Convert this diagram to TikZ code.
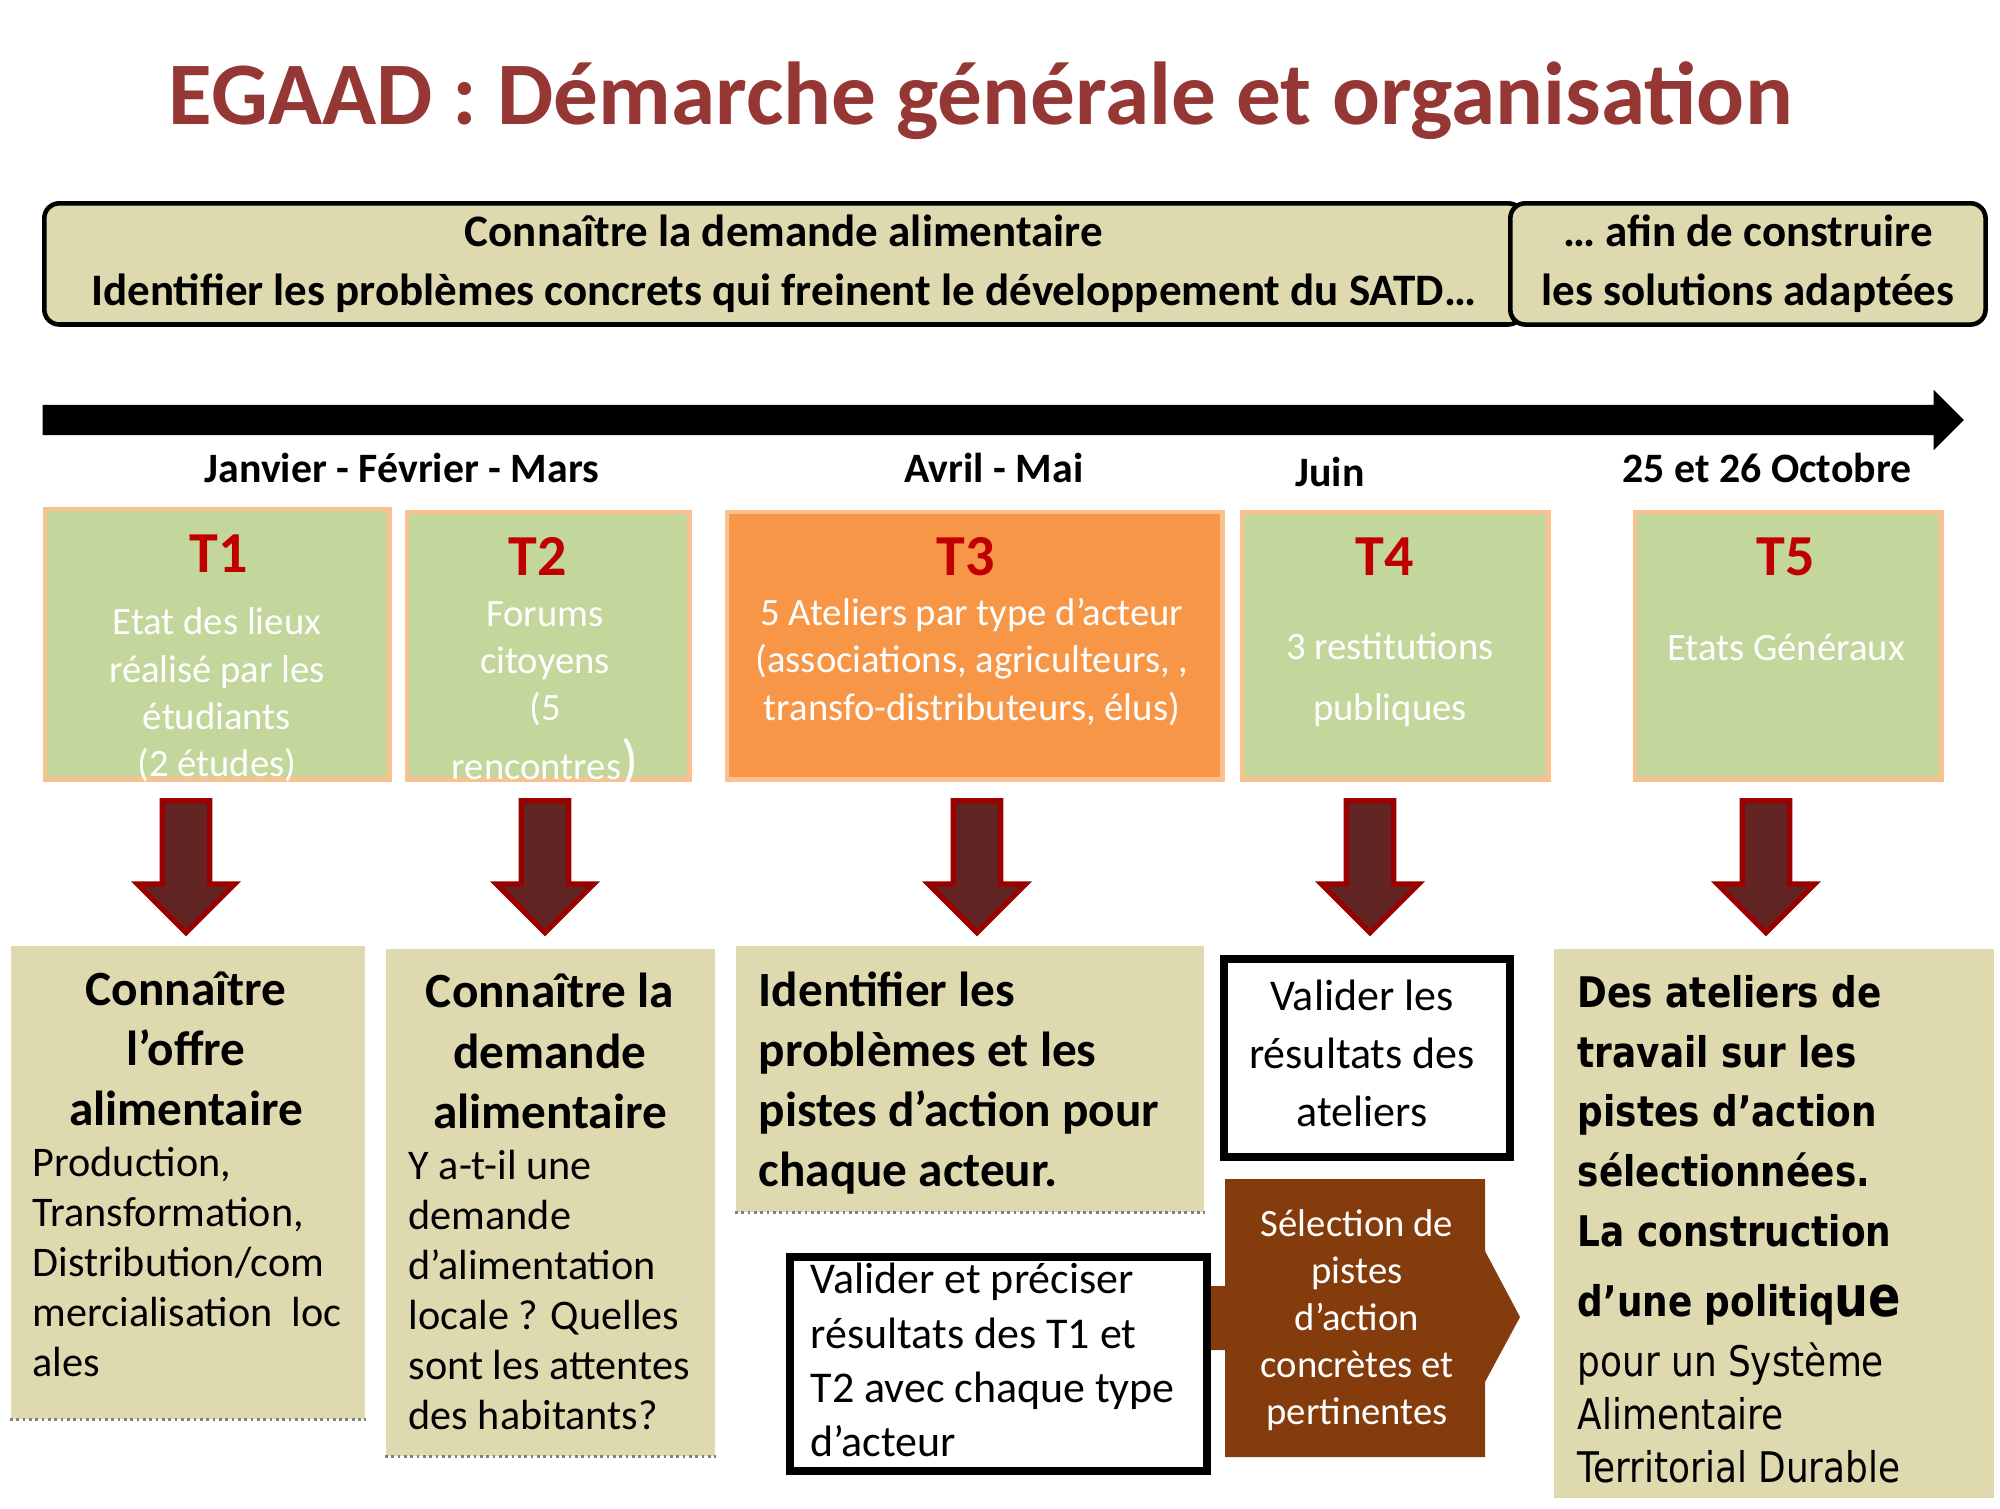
\documentclass[tikz,border=0pt]{standalone}
\usepackage{fontspec}
\setmainfont{Carlito}
\newfontfamily\tahoma[FakeStretch=0.85]{DejaVu Sans}
\usetikzlibrary{shapes,arrows,positioning,calc}

\definecolor{titlered}{RGB}{149,55,53}
\definecolor{beige}{RGB}{223,217,175}
\definecolor{tgreen}{RGB}{195,214,155}
\definecolor{torange}{RGB}{247,150,70}
\definecolor{tborder}{RGB}{250,192,144}
\definecolor{tred}{RGB}{192,0,0}
\definecolor{arrowfill}{RGB}{99,37,35}
\definecolor{arrowline}{RGB}{155,0,0}
\definecolor{selbrown}{RGB}{132,60,12}

\begin{document}
\begin{tikzpicture}[
    x=0.01cm, y=-0.01cm,
    banner/.style={draw, line width=1.3pt, rounded corners=0.15cm, fill=beige, anchor=north west, minimum height=1.17cm, align=center, font=\fontsize{12.8}{16.8}\selectfont\bfseries},
    month/.style={anchor=base, font=\fontsize{11.9}{14}\selectfont\bfseries},
    tbox/.style={draw=tborder, line width=1.4pt, fill=tgreen, anchor=north west, minimum height=2.67cm},
    tlabel/.style={anchor=base, text=tred, font=\fontsize{16.5}{18}\selectfont\bfseries},
    tbody/.style={text=white, align=center, font=\fontsize{11}{13.5}\selectfont},
    darrow/.style={single arrow, rotate=-90, anchor=tail, fill=arrowfill, draw=arrowline, line width=1.5pt, minimum height=1.32cm, inner xsep=0pt, inner ysep=0.21cm, single arrow head extend=0.25cm},
    resbox/.style={fill=beige, anchor=north west, inner sep=0pt},
    valbox/.style={draw, line width=2.3pt, fill=white, anchor=north west, inner sep=0pt},
    reshead/.style={align=center, font=\fontsize{14}{17.1}\selectfont\bfseries},
    restext/.style={anchor=west, align=left, inner sep=0pt, font=\fontsize{12}{14.2}\selectfont},
    shadowline/.style={gray, densely dotted, line width=0.8pt}
]
\useasboundingbox (0,0) rectangle (2000,1508);

% Title
\node[anchor=base, text=titlered, font=\fontsize{25.4}{28}\selectfont\bfseries] (title) at (981,124) {EGAAD : Démarche générale et organisation};

% Banner
\node[banner, minimum width=14.78cm] (ban1) at (42,201) {Connaître la demande alimentaire\\Identifier les problèmes concrets qui freinent le développement du SATD…};
\node[banner, minimum width=4.75cm] (ban2) at (1508,201) {… afin de construire\\les solutions adaptées};

% Timeline
\node[single arrow, fill=black, anchor=tail, minimum height=19.2cm, inner xsep=0pt, inner ysep=0.145cm, single arrow head extend=0.15cm] (timeline) at (42,420) {};

\node[month] (m1) at (402,482) {Janvier - Février - Mars};
\node[month] (m2) at (994,482) {Avril - Mai};
\node[month] (m3) at (1330,486) {Juin};
\node[month] (m4) at (1767,482) {25 et 26 Octobre};

% Steps
\node[tbox, minimum width=3.44cm, minimum height=2.70cm] (t1) at (42.5,506.5) {};
\node[tbox, minimum width=2.82cm] (t2) at (404.5,509.5) {};
\node[tbox, minimum width=4.95cm, fill=torange] (t3) at (724.5,509.5) {};
\node[tbox, minimum width=3.06cm] (t4) at (1239.5,509.5) {};
\node[tbox, minimum width=3.06cm] (t5) at (1632.5,509.5) {};

\node[tlabel] (l1) at (219,572) {T1};
\node[tlabel] (l2) at (538,575) {T2};
\node[tlabel] (l3) at (966,575) {T3};
\node[tlabel] (l4) at (1385,575) {T4};
\node[tlabel] (l5) at (1786,575) {T5};

\node[tbody] (b1) at (217,695) {Etat des lieux\\réalisé par les\\étudiants\\(2 études)};
\node[tbody] (b2) at (545,694) {Forums\\citoyens\\(5\\[3pt]rencontres{\fontsize{16}{16}\selectfont)}};
\node[tbody] (b3) at (972,662) {5 Ateliers par type d’acteur\\(associations, agriculteurs, ,\\transfo-distributeurs, élus)};
\node[tbody, font=\fontsize{11}{17.4}\selectfont] (b4) at (1390,680) {3 restitutions\\publiques};
\node[tbody] (b5) at (1786,647) {Etats Généraux};

% Down arrows
\node[darrow] (a1) at (186,798) {};
\node[darrow] (a2) at (545,798) {};
\node[darrow] (a3) at (977,798) {};
\node[darrow] (a4) at (1370,798) {};
\node[darrow] (a5) at (1766,798) {};

% Results
\node[resbox, minimum width=3.54cm, minimum height=4.73cm] (r1) at (10,945) {};
\node[resbox, minimum width=3.29cm, minimum height=5.07cm] (r2) at (385,948) {};
\node[resbox, minimum width=4.68cm, minimum height=2.66cm] (r3) at (735,945) {};
\node[resbox, minimum width=4.40cm, minimum height=5.49cm] (r5) at (1553,948) {};
\draw[shadowline] (r1.south west) -- (r1.south east);
\draw[shadowline] (r2.south west) -- (r2.south east);
\draw[shadowline] (r3.south west) -- (r3.south east);

\node[reshead] (h1) at (186,1049) {Connaître\\l’offre\\alimentaire};
\node[restext] (x1) at (32,1262) {Production,\\Transformation,\\Distribution/com\\mercialisation~~loc\\ales};
\node[reshead] (h2) at (550,1051) {Connaître la\\demande\\alimentaire};
\node[restext] (x2) at (408,1290) {Y a-t-il une\\demande\\d’alimentation\\locale ? Quelles\\sont les attentes\\des habitants?};
\node[restext, font=\fontsize{14}{17.1}\selectfont\bfseries] (h3) at (758,1083) {Identifier les\\problèmes et les\\pistes d’action pour\\chaque acteur.};

% Selection arrow
\fill[selbrown] (1207,1286) -- (1225,1286) -- (1225,1179) -- (1485,1179) -- (1485,1251) -- (1520,1317) -- (1485,1382) -- (1485,1457) -- (1225,1457) -- (1225,1350) -- (1207,1350) -- cycle;
\node[align=center, text=white, font=\fontsize{11}{13.4}\selectfont] (sel) at (1357,1320) {Sélection de\\pistes\\d’action\\concrètes et\\pertinentes};

\node[valbox, minimum width=2.86cm, minimum height=1.98cm] (v1) at (1220,955) {};
\node[align=center, font=\fontsize{12.5}{16.5}\selectfont] (vt1) at (1362,1053) {Valider les\\résultats des\\ateliers};
\node[valbox, minimum width=4.17cm, minimum height=2.14cm] (v2) at (786,1253) {};
\node[restext, font=\fontsize{12.5}{15.4}\selectfont] (vt2) at (810,1360) {Valider et préciser\\résultats des T1 et\\T2 avec chaque type\\d’acteur};

\node[restext, font=\tahoma\fontsize{12}{15}\selectfont] (x5) at (1577,1229) {\bfseries Des ateliers de\\[2pt]\bfseries travail sur les\\[2pt]\bfseries pistes d’action\\[2pt]\bfseries sélectionnées.\\[2pt]\bfseries La construction\\[5pt]\bfseries d’une politiq{\fontsize{16}{17}\selectfont ue}\\[2pt]pour un Système\\Alimentaire\\Territorial Durable};

\end{tikzpicture}
\end{document}
